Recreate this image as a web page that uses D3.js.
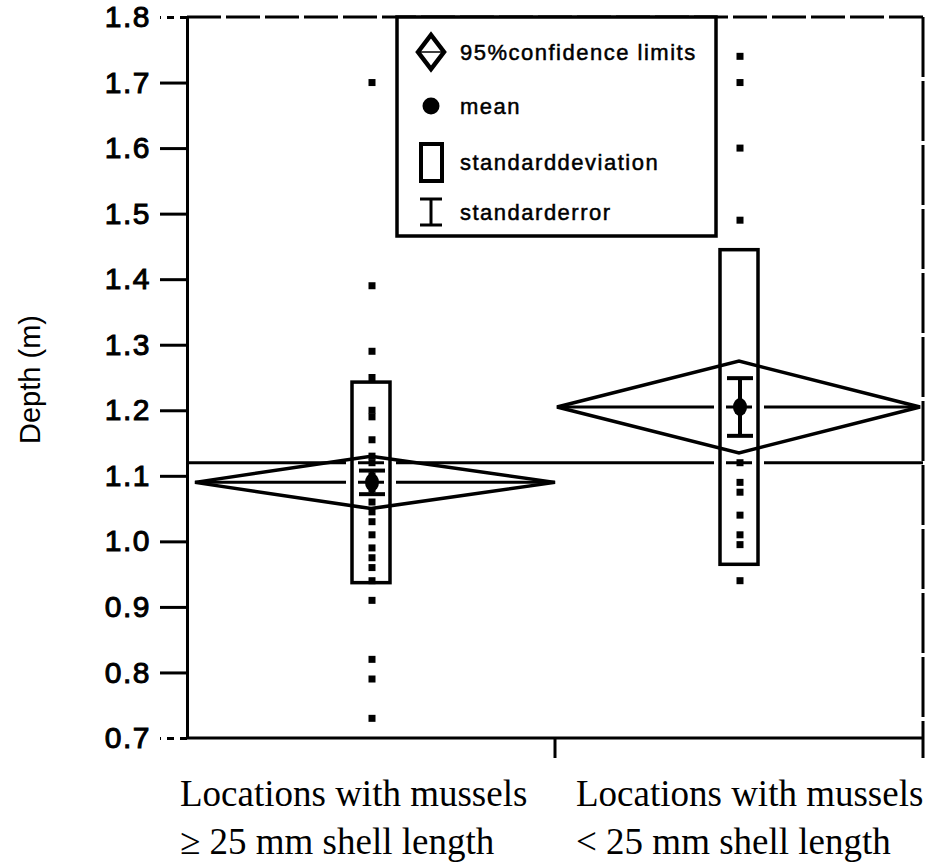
<!DOCTYPE html>
<html>
<head>
<meta charset="utf-8">
<script src="https://cdn.jsdelivr.net/npm/d3@7"></script>
<style>
  html, body { margin: 0; padding: 0; background: #fff; }
  svg { display: block; }
</style>
</head>
<body>
<svg id="chart" width="929" height="862"></svg>
<script>
// ---- data ----
const categories = ["ge25", "lt25"];
const categoryLines = [
    ["Locations with mussels", "\u2265 25 mm shell length"],
    ["Locations with mussels", "< 25 mm shell length"]
];
const depthsGE25 = [1.70, 1.39, 1.29, 1.25, 1.20, 1.19, 1.155, 1.13, 1.12, 1.10, 1.09, 1.08,
                    1.06, 1.045, 1.03, 1.01, 0.99, 0.975, 0.96, 0.94, 0.91, 0.82, 0.79, 0.73];
const depthsLT25 = [1.74, 1.70, 1.60, 1.49, 1.12, 1.09, 1.075, 1.04, 1.01, 0.995, 0.94];
const groupMeans = [1.09, 1.205];
const groupSD    = [0.153, 0.24];
const groupSE    = [0.018, 0.044];
const groupCI    = [0.04, 0.07];
const grandMean  = 1.12;
const yTicks     = [0.7, 0.8, 0.9, 1.0, 1.1, 1.2, 1.3, 1.4, 1.5, 1.6, 1.7, 1.8];
const legendItems = ["95%confidence limits", "mean", "standarddeviation", "standarderror"];

const svg = d3.select("#chart");

const plotLeft = 187, plotRight = 923, plotTop = 17, plotBottom = 738;

const y = d3.scaleLinear().domain([0.7, 1.8]).range([plotBottom, plotTop]);
const x = d3.scaleBand().domain(categories).range([plotLeft, plotRight]);
const cx = c => x(c) + x.bandwidth() / 2;

const ink = "#000";
const sans = "'Liberation Sans', Arial, Helvetica, sans-serif";
const serif = "'Liberation Serif', 'Times New Roman', serif";

// ---- y axis ----
const yAxis = svg.append("g")
    .attr("transform", `translate(${plotLeft},0)`)
    .call(d3.axisLeft(y).tickValues(yTicks).tickFormat(d3.format(".1f"))
        .tickSize(27).tickSizeOuter(0).tickPadding(9));
yAxis.select(".domain").attr("stroke", ink).attr("stroke-width", 3);
yAxis.selectAll(".tick line").attr("stroke", ink).attr("stroke-width", 3)
    .attr("stroke-dasharray", d => (d === 1.8 || d === 0.7) ? "7,6" : null);
yAxis.selectAll(".tick text")
    .style("font", `30px ${sans}`)
    .style("letter-spacing", "1.5px")
    .attr("fill", ink).attr("stroke", ink).attr("stroke-width", 1);

svg.append("text")
    .attr("transform", `translate(40,${(plotTop + plotBottom) / 2 + 2}) rotate(-90)`)
    .attr("text-anchor", "middle")
    .style("font", `29px ${sans}`)
    .attr("fill", ink)
    .text("Depth (m)");

// ---- frame: bottom axis, top + right border ----
svg.append("line")
    .attr("x1", plotLeft - 1).attr("x2", plotRight + 1)
    .attr("y1", plotBottom).attr("y2", plotBottom)
    .attr("stroke", ink).attr("stroke-width", 3);
svg.append("line")
    .attr("x1", plotLeft).attr("x2", plotRight)
    .attr("y1", plotTop).attr("y2", plotTop)
    .attr("stroke", ink).attr("stroke-width", 3).attr("stroke-dasharray", "34,5");
svg.append("line")
    .attr("x1", plotRight).attr("x2", plotRight)
    .attr("y1", plotTop).attr("y2", plotBottom + 20)
    .attr("stroke", ink).attr("stroke-width", 3).attr("stroke-dasharray", "60,4");
svg.append("line")
    .attr("x1", x(categories[1])).attr("x2", x(categories[1]))
    .attr("y1", plotBottom).attr("y2", plotBottom + 20)
    .attr("stroke", ink).attr("stroke-width", 3);

// category labels (two lines, left aligned)
const labelX = [180, 576];
categoryLines.forEach((lines, i) => {
    const t = svg.append("text")
        .attr("x", labelX[i]).attr("y", 806)
        .style("font", `37px ${serif}`)
        .attr("fill", ink);
    lines.forEach((ln, j) => {
        t.append("tspan").attr("x", labelX[i]).attr("dy", j === 0 ? 0 : 48).text(ln);
    });
});

// ---- grand mean line ----
svg.append("line")
    .attr("x1", plotLeft + 2).attr("x2", plotRight)
    .attr("y1", y(grandMean)).attr("y2", y(grandMean))
    .attr("stroke", ink).attr("stroke-width", 3);

const boxW = 38;
const groups = categories.map((c, i) => ({
    c, mean: groupMeans[i], sd: groupSD[i], se: groupSE[i], ci: groupCI[i],
    pts: i === 0 ? depthsGE25 : depthsLT25,
    x0: x(c) + (i === 0 ? 8 : 2),
    x1: x(c) + x.bandwidth() - (i === 0 ? 0 : 3)
}));

// mean line across the diamond
svg.selectAll(".meanline").data(groups).enter().append("line")
    .attr("x1", d => d.x0).attr("x2", d => d.x1)
    .attr("y1", d => y(d.mean)).attr("y2", d => y(d.mean))
    .attr("stroke", ink).attr("stroke-width", 3);

// white halo around box edges (gaps in horizontal lines)
svg.selectAll(".halo").data(groups).enter().append("rect")
    .attr("x", d => cx(d.c) - boxW / 2).attr("width", boxW)
    .attr("y", d => y(d.mean + d.sd)).attr("height", d => y(d.mean - d.sd) - y(d.mean + d.sd))
    .attr("fill", "none").attr("stroke", "#fff").attr("stroke-width", 12);

// diamonds
svg.selectAll(".diamond").data(groups).enter().append("polygon")
    .attr("points", d => [
        [d.x0, y(d.mean)], [cx(d.c), y(d.mean + d.ci)],
        [d.x1, y(d.mean)], [cx(d.c), y(d.mean - d.ci)]
    ].map(p => p.join(",")).join(" "))
    .attr("fill", "none").attr("stroke", ink).attr("stroke-width", 3.5)
    .attr("stroke-linejoin", "miter");

// SD boxes
svg.selectAll(".sdbox").data(groups).enter().append("rect")
    .attr("x", d => cx(d.c) - boxW / 2).attr("width", boxW)
    .attr("y", d => y(d.mean + d.sd)).attr("height", d => y(d.mean - d.sd) - y(d.mean + d.sd))
    .attr("fill", "none").attr("stroke", ink).attr("stroke-width", 3.5);

// points
groups.forEach(g => {
    svg.selectAll(null).data(g.pts).enter().append("rect")
        .attr("x", cx(g.c) - 2.5).attr("y", d => y(d) - 3.5)
        .attr("width", 7).attr("height", 7)
        .attr("fill", ink);
});

// SE bars
groups.forEach(g => {
    const xc = cx(g.c) + 1;
    const seG = svg.append("g").attr("stroke", ink);
    seG.append("line").attr("x1", xc).attr("x2", xc)
        .attr("y1", y(g.mean + g.se)).attr("y2", y(g.mean - g.se)).attr("stroke-width", 4);
    [g.mean + g.se, g.mean - g.se].forEach(v => {
        seG.append("line").attr("x1", xc - 13).attr("x2", xc + 13)
            .attr("y1", y(v)).attr("y2", y(v)).attr("stroke-width", 4);
    });
});

// means
svg.selectAll(".meandot").data(groups).enter().append("ellipse")
    .attr("cx", d => cx(d.c) + 1).attr("cy", d => y(d.mean))
    .attr("rx", 7).attr("ry", 9)
    .attr("fill", ink);

// ---- legend ----
const lg = svg.append("g");
lg.append("rect")
    .attr("x", 397).attr("y", plotTop).attr("width", 319).attr("height", 219)
    .attr("fill", "#fff").attr("stroke", ink).attr("stroke-width", 3.5);

const legendY = [52, 106, 162, 212];
const icX = 431;
// diamond icon
lg.append("polygon")
    .attr("points", `${icX - 13},${legendY[0]} ${icX},${legendY[0] - 17} ${icX + 13},${legendY[0]} ${icX},${legendY[0] + 17}`)
    .attr("fill", "none").attr("stroke", ink).attr("stroke-width", 4.5);
lg.append("line").attr("x1", icX - 13).attr("x2", icX + 13)
    .attr("y1", legendY[0]).attr("y2", legendY[0]).attr("stroke", ink).attr("stroke-width", 1.5);
// mean icon
lg.append("circle").attr("cx", icX).attr("cy", legendY[1]).attr("r", 8.5).attr("fill", ink);
// SD icon
lg.append("rect").attr("x", icX - 10).attr("y", legendY[2] - 18).attr("width", 21).attr("height", 37)
    .attr("fill", "none").attr("stroke", ink).attr("stroke-width", 4);
// SE icon
lg.append("line").attr("x1", icX).attr("x2", icX).attr("y1", legendY[3] - 13).attr("y2", legendY[3] + 13)
    .attr("stroke", ink).attr("stroke-width", 3);
[legendY[3] - 13, legendY[3] + 13].forEach(v => {
    lg.append("line").attr("x1", icX - 11).attr("x2", icX + 11).attr("y1", v).attr("y2", v)
        .attr("stroke", ink).attr("stroke-width", 3);
});

lg.selectAll(".lt").data(legendItems).enter().append("text")
    .attr("x", 460).attr("y", (d, i) => legendY[i] + 8)
    .style("font", `22px ${sans}`)
    .style("letter-spacing", "1.5px")
    .attr("fill", ink).attr("stroke", ink).attr("stroke-width", 0.5)
    .text(d => d);
</script>
</body>
</html>
